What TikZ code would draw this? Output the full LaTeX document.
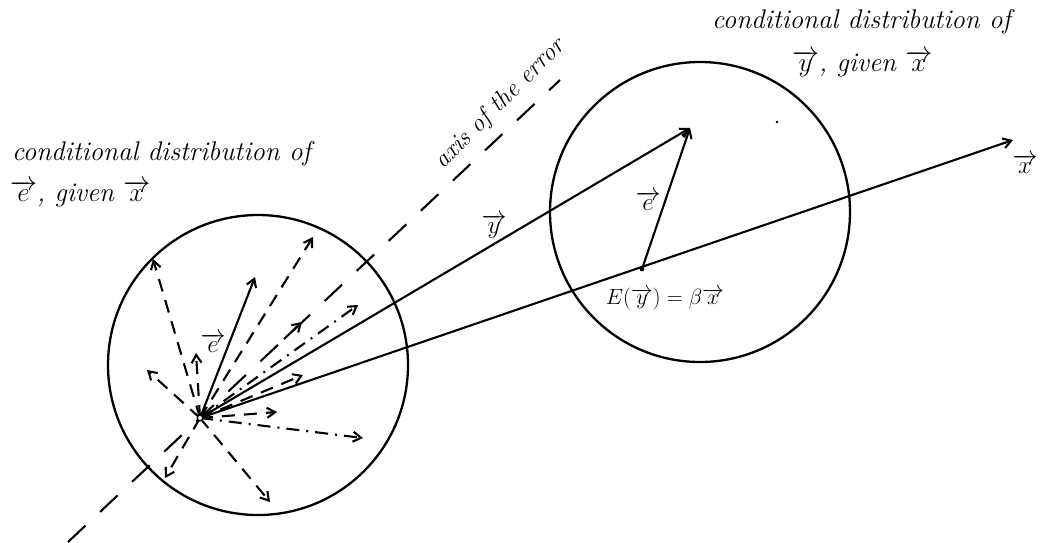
\documentclass[tikz,border=0pt]{standalone}
\usepackage{fix-cm}
\usepackage{fontspec}
\usetikzlibrary{arrows.meta}
\begin{document}
\begin{tikzpicture}[x=1pt,y=-1pt,
  line width=2.1pt,
  vec/.style={-{Straight Barb[length=8pt,width=10pt]}},
  err/.style={vec, dash pattern=on 13pt off 9pt},
  errdd/.style={vec, dash pattern=on 13pt off 7pt on 2pt off 7pt},
  axisline/.style={dash pattern=on 24pt off 20pt},
  ring/.style={circle, draw, line width=2.3pt, minimum size=300pt, inner sep=0pt},
  lbl/.style={font=\fontsize{27}{30}\selectfont\itshape, inner sep=1pt},
  axlbl/.style={font=\fontsize{25}{28}\selectfont\itshape, inner sep=1pt},
  vlbl/.style={font=\fontsize{25}{27}\selectfont, inner sep=1pt},
  elbl/.style={font=\fontsize{22}{24}\selectfont, inner sep=1pt},
 ]
\useasboundingbox (0,0) rectangle (1041,542);
\fill[white] (0,0) rectangle (1041,542);

% circles
\node[ring] (C1) at (258,365) {};
\node[ring] (C2) at (700,212) {};

% key points
\coordinate (O) at (200,418);
\coordinate (Ytip) at (690,128);
\coordinate (E) at (642,269);
\coordinate (Xtip) at (1013,140);
\coordinate (A1) at (68,542);
\coordinate (A2) at (560,80);

% axis of the error
\draw[axisline] (A1) -- (A2);

% main vectors
\draw[vec] (O) -- (Ytip);
\draw[vec] (O) -- (Xtip);
\draw[vec] (E) -- (Ytip);
\fill (E) circle (2.4pt);

% error vectors in left circle
\coordinate (e0) at (255,277);
\coordinate (f1) at (153,259);
\coordinate (f2) at (196,353);
\coordinate (f3) at (147,370);
\coordinate (f4) at (313,237);
\coordinate (f5s) at (284,339);
\coordinate (f5) at (302,322);
\coordinate (f6) at (358,305);
\coordinate (f7) at (303,375);
\coordinate (f8) at (277,412);
\coordinate (f9) at (363,438);
\coordinate (f10) at (270,502);
\coordinate (f11) at (165,478);
\draw[vec] (O) -- (e0);
\draw[err] (O) -- (f1);
\draw[err] (O) -- (f2);
\draw[err] (O) -- (f3);
\draw[err] (O) -- (f4);
\draw[vec] (f5s) -- (f5);
\draw[errdd] (O) -- (f6);
\draw[err] (O) -- (f7);
\draw[err] (O) -- (f8);
\draw[errdd] (O) -- (f9);
\draw[err] (O) -- (f10);
\draw[err] (O) -- (f11);
\filldraw[fill=white, line width=1.3pt] (O) circle (2.8pt);

% stray dot
\fill (777,122) circle (1.3pt);

% labels
\node[lbl, anchor=west] (L1) at (10,154) {conditional distribution of};
\node[lbl, anchor=west] (L2) at (8,194) {$\overrightarrow{e}$, given $\overrightarrow{x}$};
\node[lbl, anchor=west] (R1) at (710,22) {conditional distribution of};
\node[lbl, anchor=west] (R2) at (790,64) {$\overrightarrow{y}$, given $\overrightarrow{x}$};
\node[axlbl, rotate=45] (AX) at (500,104) {axis of the error};
\node[vlbl] (le) at (213,343) {$\overrightarrow{e}$};
\node[vlbl] (re) at (648,201) {$\overrightarrow{e}$};
\node[vlbl] (ly) at (494,226) {$\overrightarrow{y}$};
\node[vlbl] (lx) at (1025,164) {$\overrightarrow{x}$};
\node[elbl] (lE) at (665,299) {$E(\overrightarrow{y})=\beta\overrightarrow{x}$};
\end{tikzpicture}
\end{document}
